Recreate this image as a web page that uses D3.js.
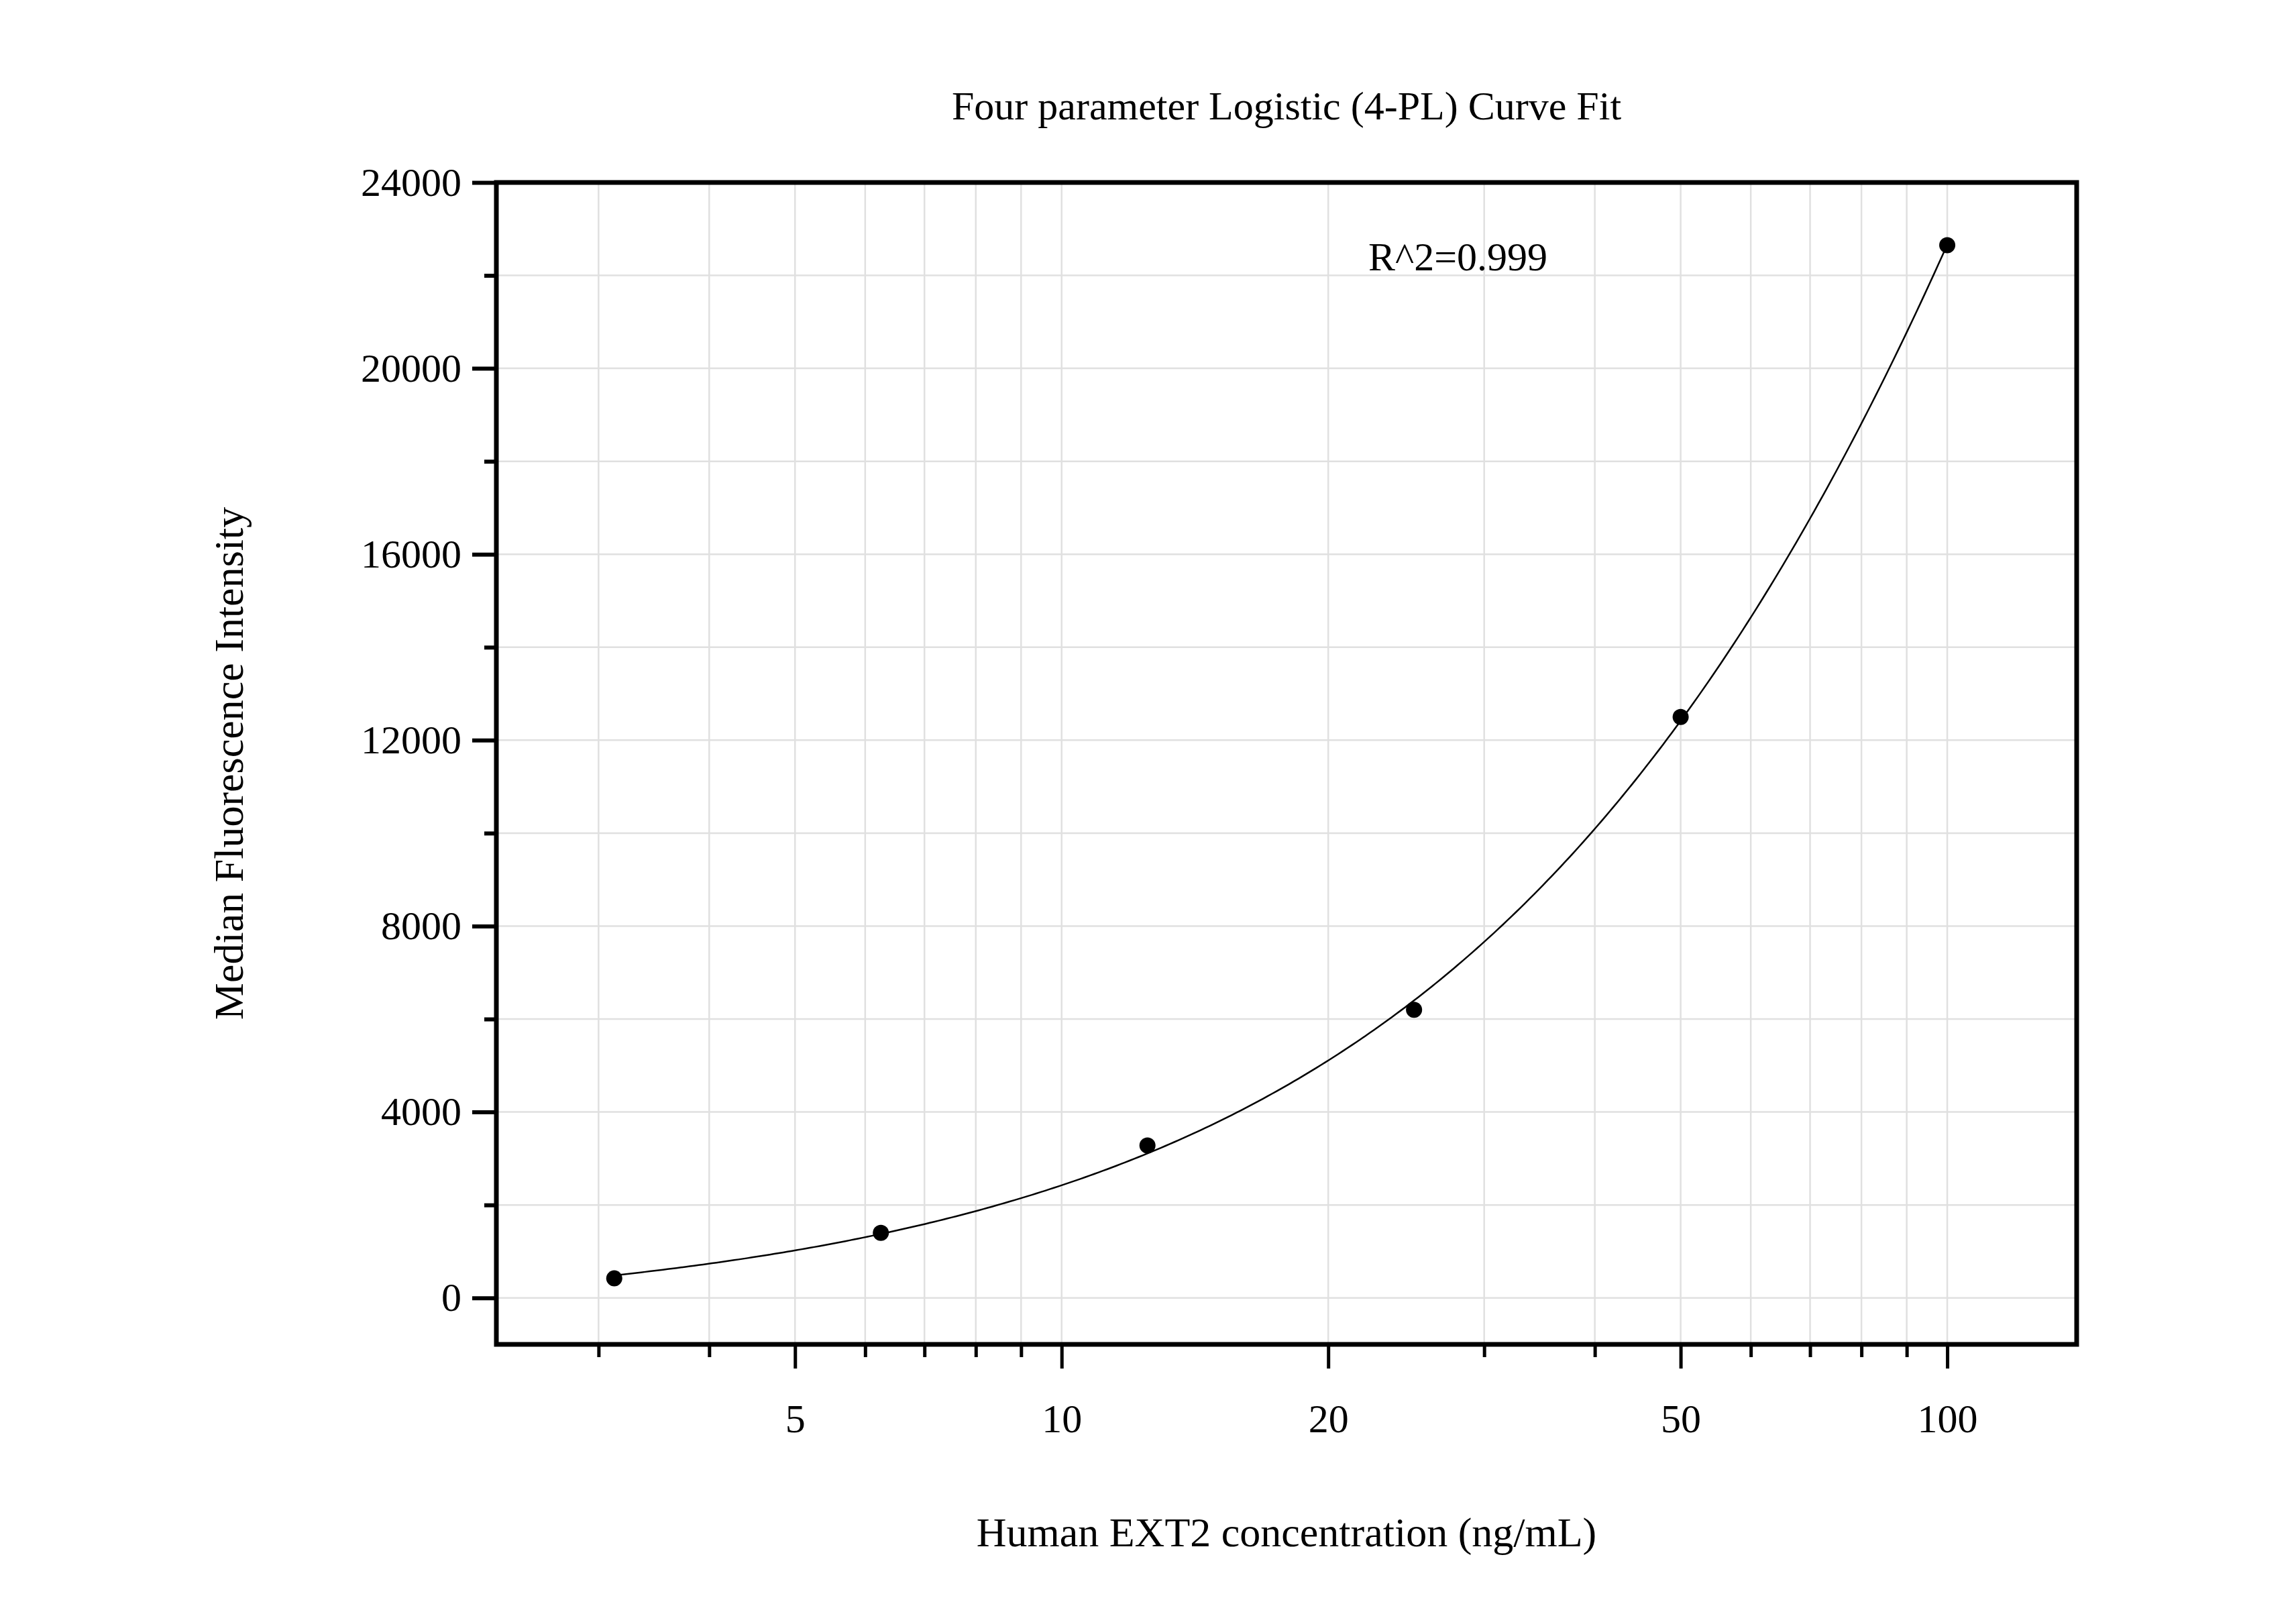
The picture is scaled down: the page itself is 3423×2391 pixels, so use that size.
<!DOCTYPE html>
<html><head><meta charset="utf-8">
<script src="https://cdn.jsdelivr.net/npm/d3@7"></script>
<style>body{margin:0;background:#fff}text{font-family:"Liberation Serif","Times New Roman",serif;fill:#000}</style>
</head><body>
<script>
const concentrations = [3.125, 6.25, 12.5, 25, 50, 100];
const mfi = [420, 1400, 3280, 6200, 12500, 22650];
const xTickLabels = [5, 10, 20, 50, 100];
const yTickLabels = [0, 4000, 8000, 12000, 16000, 20000, 24000];
const title = "Four parameter Logistic (4-PL) Curve Fit";
const xTitle = "Human EXT2 concentration (ng/mL)";
const yTitle = "Median Fluorescence Intensity";
const r2Text = "R^2=0.999";

const W = 3423, H = 2391;
const L = 740, R = 3096, T = 272, B = 2004;
const svg = d3.select("body").append("svg").attr("width", W).attr("height", H);
const x = d3.scaleLog().domain([2.30, 140]).range([L, R]);
const y = d3.scaleLinear().domain([-1000, 24000]).range([B, T]);

// 4PL fit (Nelder-Mead) on the data
function f4(p, v){ const [a,b,lc,d]=p; return d + (a-d)/(1+Math.pow(v/Math.exp(lc), b)); }
function sse(p){ return d3.sum(concentrations, (c,i)=>{const e=f4(p,c)-mfi[i]; return e*e;}); }
function nm(f, x0){
  const n=x0.length; let s=[x0]; const step=[200,0.2,0.5,10000];
  for(let i=0;i<n;i++){const p=x0.slice();p[i]+=step[i];s.push(p);}
  for(let it=0;it<6000;it++){
    s.sort((a,b)=>f(a)-f(b));
    const c=Array(n).fill(0); for(let i=0;i<n;i++)for(let j=0;j<n;j++)c[j]+=s[i][j]/n;
    const w=s[n]; const r=c.map((v,j)=>v+(v-w[j]));
    if(f(r)<f(s[0])){const e=c.map((v,j)=>v+2*(v-w[j])); s[n]=f(e)<f(r)?e:r;}
    else if(f(r)<f(s[n-1])) s[n]=r;
    else{const k=c.map((v,j)=>v+0.5*(w[j]-v)); if(f(k)<f(w)) s[n]=k; else for(let i=1;i<=n;i++) s[i]=s[i].map((v,j)=>s[0][j]+0.5*(v-s[0][j]));}
  }
  s.sort((a,b)=>f(a)-f(b)); return s[0];
}
const params = nm(sse, [0, 1.2, Math.log(200), 60000]);

// grid
const minorX = [];
[1,10].forEach(dec=>{for(let k=1;k<10;k++){const v=k*dec; if(v>2.3&&v<140) minorX.push(v);} }); minorX.push(100);
svg.append("g").selectAll("line").data(minorX).join("line")
  .attr("x1",d=>x(d)).attr("x2",d=>x(d)).attr("y1",T).attr("y2",B).attr("stroke","#e0e0e0").attr("stroke-width",2.5);
const yGrid = d3.range(0, 24001, 2000);
svg.append("g").selectAll("line").data(yGrid).join("line")
  .attr("x1",L).attr("x2",R).attr("y1",d=>y(d)).attr("y2",d=>y(d)).attr("stroke","#e0e0e0").attr("stroke-width",2.5);

// curve
const cx = d3.range(0, 301).map(i=>Math.exp(Math.log(3.125)+i/300*(Math.log(100)-Math.log(3.125))));
svg.append("path").datum(cx).attr("fill","none").attr("stroke","#000").attr("stroke-width",2.5)
  .attr("d", d3.line().x(d=>x(d)).y(d=>y(f4(params,d))));

// points
svg.append("g").selectAll("circle").data(concentrations).join("circle")
  .attr("cx",d=>x(d)).attr("cy",(d,i)=>y(mfi[i])).attr("r",12).attr("fill","#000");

// axes
const xAxis = d3.axisBottom(x).tickValues(minorX).tickFormat(d=>xTickLabels.includes(d)?d:"")
  .tickSizeInner(0).tickSizeOuter(0);
const gx = svg.append("g").attr("transform",`translate(0,${B})`).call(xAxis);
gx.selectAll(".tick line").attr("y2",d=>xTickLabels.includes(d)?36:19).attr("stroke-width",5);
gx.selectAll(".tick text").attr("y",88).attr("font-size",60).attr("font-family","Liberation Serif");
const yAxis = d3.axisLeft(y).tickValues(yGrid).tickFormat(d=>yTickLabels.includes(d)?d:"").tickSizeInner(0).tickSizeOuter(0);
const gy = svg.append("g").attr("transform",`translate(${L},0)`).call(yAxis);
gy.selectAll(".tick line").attr("x2",d=>yTickLabels.includes(d)?-36:-18).attr("stroke-width",6);
gy.selectAll(".tick text").attr("x",-52).attr("font-size",60).attr("font-family","Liberation Serif");
svg.selectAll(".domain").remove();
svg.append("rect").attr("x",L).attr("y",T).attr("width",R-L).attr("height",B-T)
  .attr("fill","none").attr("stroke","#000").attr("stroke-width",7);

// texts
svg.append("text").attr("x",(L+R)/2).attr("y",178).attr("text-anchor","middle").attr("font-size",60).text(title);
svg.append("text").attr("x",(L+R)/2).attr("y",2305).attr("text-anchor","middle").attr("font-size",62).text(xTitle);
svg.append("text").attr("transform",`translate(362,${(T+B)/2}) rotate(-90)`).attr("text-anchor","middle").attr("font-size",62).text(yTitle);
svg.append("text").attr("x",2040).attr("y",403).attr("font-size",60).text(r2Text);
</script>
</body></html>
